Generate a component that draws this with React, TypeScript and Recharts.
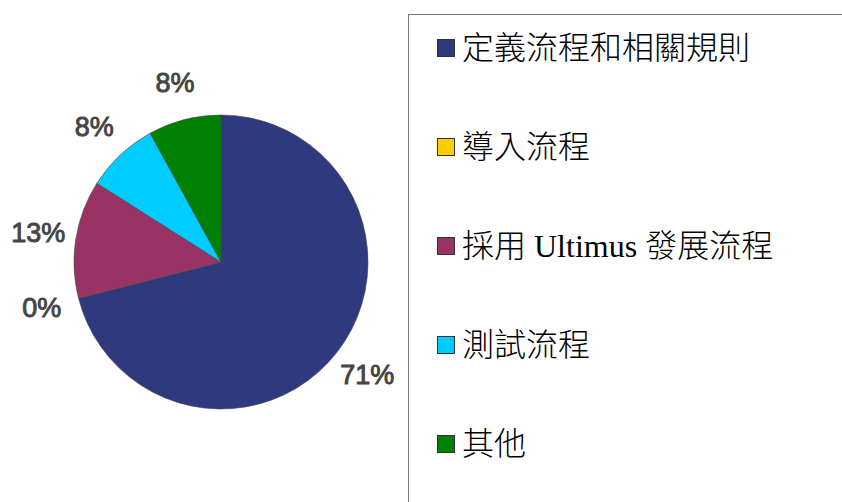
import React from 'react';
import { PieChart, Pie, Cell, Legend } from 'recharts';

const categories = ['定義流程和相關規則', '導入流程', '採用 Ultimus 發展流程', '測試流程', '其他'];
const values = [71, 0, 13, 8, 8];
const colors = ['#2F3A7E', '#FFCC00', '#993366', '#00CCFF', '#008000'];

const data = categories.map((name, i) => ({ name, value: values[i] }));

const RADIAN = Math.PI / 180;

const renderLabel = (props: any) => {
  const { cx, cy, midAngle, outerRadius, value } = props;
  const r = outerRadius + 38;
  const x = cx + r * Math.cos(-midAngle * RADIAN);
  const y = cy + r * Math.sin(-midAngle * RADIAN);
  return (
    <text
      x={x}
      y={y}
      textAnchor="middle"
      dominantBaseline="central"
      fill="#444444"
      stroke="#444444"
      strokeWidth={0.9}
      fontFamily="'Liberation Sans', Arial, sans-serif"
      fontWeight="normal"
      fontSize={27}
    >
      {`${value}%`}
    </text>
  );
};

const LegendBox = () => (
  <div
    style={{
      position: 'absolute',
      left: 408,
      top: 14,
      width: 460,
      height: 520,
      borderLeft: '1.5px solid #7a7a7a',
      borderTop: '1.5px solid #7a7a7a',
      boxSizing: 'border-box',
    }}
  >
    {categories.map((name, i) => (
      <div
        key={name}
        style={{
          position: 'absolute',
          left: 28,
          top: -17 + i * 99,
          height: 99,
          display: 'flex',
          alignItems: 'center',
          whiteSpace: 'nowrap',
        }}
      >
        <span
          style={{
            display: 'inline-block',
            width: 18,
            height: 18,
            background: colors[i],
            border: '1px solid #333',
            boxSizing: 'border-box',
            marginRight: 7,
          }}
        />
        <span
          style={{
            fontFamily: "'Liberation Serif', 'Noto Sans CJK TC', serif",
            fontSize: 32,
            fontWeight: 300,
            color: '#000',
            lineHeight: '32px',
          }}
        >
          {name}
        </span>
      </div>
    ))}
  </div>
);

export default function App() {
  return (
    <div style={{ position: 'absolute', left: 0, top: 0, width: 842, height: 502, overflow: 'hidden', background: '#fff' }}>
      <PieChart width={842} height={502} margin={{ top: 0, right: 0, bottom: 0, left: 0 }}>
        <Pie
          data={data}
          dataKey="value"
          nameKey="name"
          cx={221}
          cy={262}
          outerRadius={147}
          startAngle={90}
          endAngle={-270}
          label={renderLabel}
          labelLine={false}
          stroke="#444"
          strokeWidth={0.6}
          isAnimationActive={false}
        >
          {data.map((d, i) => (
            <Cell key={d.name} fill={colors[i]} />
          ))}
        </Pie>
        <Legend content={() => <LegendBox />} wrapperStyle={{ position: 'absolute', left: 0, top: 0, width: 0, height: 0 }} />
      </PieChart>
    </div>
  );
}
